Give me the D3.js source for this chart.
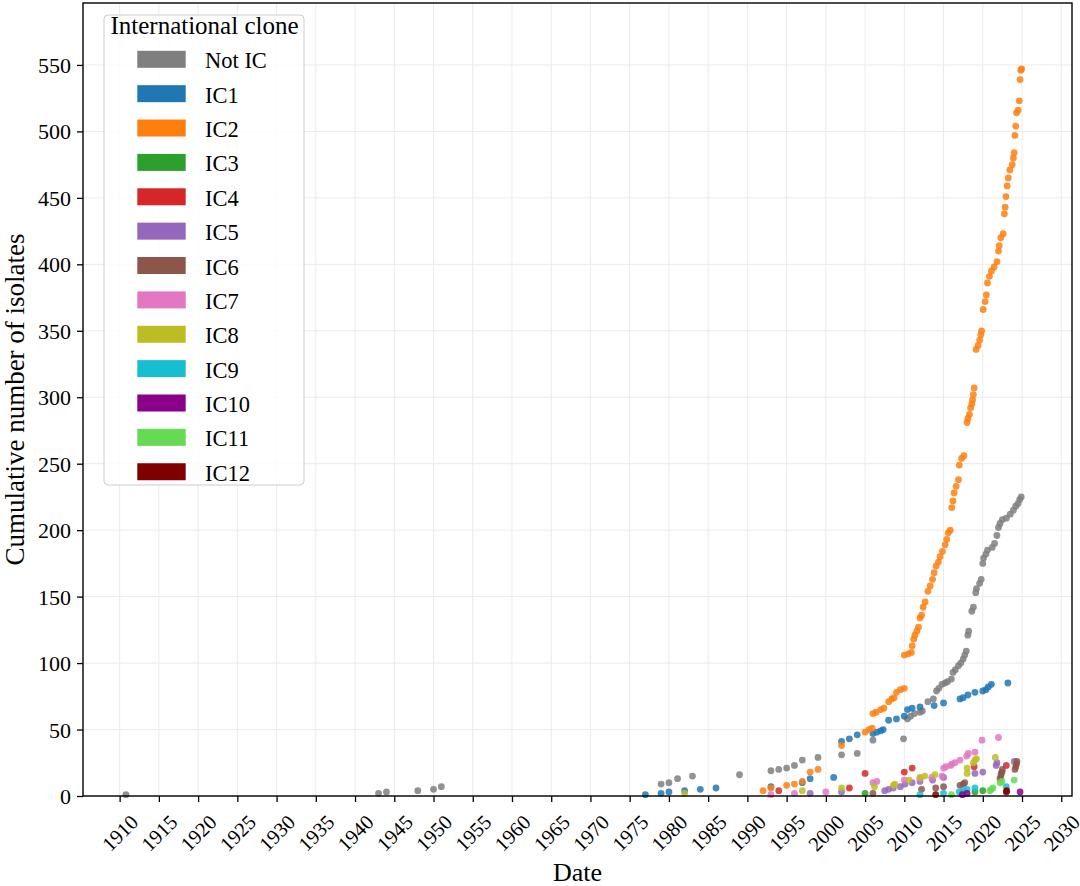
<!DOCTYPE html>
<html>
<head>
<meta charset="utf-8">
<script src="https://d3js.org/d3.v7.min.js"></script>
<style>
  body { margin: 0; background: #fff; }
  text { font-family: "Liberation Serif", "DejaVu Serif", serif; fill: #000; }
</style>
</head>
<body>
<main></main>
<script>
// categories and their colours
const clones = ["Not IC", "IC1", "IC2", "IC3", "IC4", "IC5", "IC6", "IC7", "IC8", "IC9", "IC10", "IC11", "IC12"];
const palette = ["#7f7f7f", "#1f77b4", "#ff7f0e", "#2ca02c", "#d62728", "#9467bd", "#8c564b",
	"#e377c2", "#bcbd22", "#17becf", "#8b008b", "#66d955", "#800000"];

// tick labels
const xTicks = [1910, 1915, 1920, 1925, 1930, 1935, 1940, 1945, 1950, 1955, 1960, 1965, 1970,
	1975, 1980, 1985, 1990, 1995, 2000, 2005, 2010, 2015, 2020, 2025, 2030];
const yTicks = [0, 50, 100, 150, 200, 250, 300, 350, 400, 450, 500, 550];

// [date (decimal year), cumulative number of isolates]
const notIC = [[1910.8, 1], [1943.0, 2], [1944.0, 3], [1948.0, 4], [1950.0, 5], [1951.0, 7],
	[1979.0, 9], [1980.0, 10], [1981.1, 13], [1983.0, 15], [1989.0, 16],
	[1993.0, 19], [1994.0, 20], [1995.0, 21], [1996.0, 23], [1997.0, 27], [1999.0, 29],
	[2002.0, 31], [2004.0, 32], [2006.0, 42], [2009.9, 43],
	[2010.4, 58], [2010.8, 60], [2011.3, 62], [2012.0, 63], [2012.3, 64], [2013.0, 71],
	[2013.7, 73], [2014.1, 79], [2014.4, 81], [2014.8, 84], [2015.2, 85], [2015.5, 86],
	[2016.0, 88], [2016.2, 93], [2016.5, 95], [2016.9, 98], [2017.2, 100], [2017.5, 103],
	[2017.7, 106], [2017.9, 109], [2018.1, 121], [2018.2, 124], [2018.6, 139], [2018.8, 142],
	[2019.1, 153], [2019.2, 156], [2019.6, 160], [2019.8, 163], [2020.0, 175], [2020.1, 179],
	[2020.4, 182], [2020.6, 185], [2021.2, 187], [2021.5, 190], [2021.8, 196], [2022.0, 202],
	[2022.2, 205], [2022.5, 208], [2023.0, 209], [2023.5, 212], [2023.9, 215], [2024.2, 218],
	[2024.5, 220], [2024.7, 223], [2024.9, 225]];
const ic1 = [[1977.0, 1], [1979.0, 2], [1980.0, 3], [1982.0, 4], [1984.0, 5], [1986.0, 6],
	[1993.0, 7], [1997.0, 10], [1998.0, 13], [2001.0, 14], [2002.0, 41], [2003.0, 43],
	[2004.0, 46], [2006.0, 47], [2006.5, 48], [2007.0, 49], [2007.3, 50], [2008.0, 57],
	[2009.0, 58], [2010.0, 60], [2010.4, 65], [2011.0, 66], [2012.0, 67], [2013.8, 68],
	[2015.0, 70], [2017.1, 73], [2017.5, 74], [2018.1, 76], [2019.0, 78], [2020.0, 79],
	[2020.4, 80], [2020.7, 82], [2021.1, 84], [2023.2, 85]];
const ic2 = [[1992.0, 4], [1993.0, 6], [1995.0, 8], [1996.0, 9], [1997.0, 11], [1998.0, 18],
	[1999.0, 20], [2002.0, 38], [2005.0, 48], [2005.5, 50], [2005.9, 51], [2006.0, 62],
	[2006.4, 63], [2007.0, 65], [2007.4, 66], [2008.0, 71], [2008.4, 73], [2008.7, 74],
	[2009.0, 78], [2009.5, 80], [2010.0, 81],
	[2010.0, 106], [2010.5, 107], [2010.9, 108], [2011.0, 113], [2011.2, 118], [2011.35, 121],
	[2011.6, 124], [2011.8, 127], [2012.0, 134], [2012.2, 136], [2012.4, 142], [2012.65, 146],
	[2013.0, 154], [2013.3, 158], [2013.6, 163], [2013.8, 168], [2014.05, 173], [2014.35, 176],
	[2014.55, 180], [2014.85, 184], [2015.2, 189], [2015.4, 193], [2015.6, 198], [2015.85, 200],
	[2016.05, 217], [2016.2, 222], [2016.35, 228], [2016.6, 233], [2016.9, 238], [2017.0, 249],
	[2017.3, 254], [2017.6, 256], [2018.0, 281], [2018.1, 284], [2018.3, 287], [2018.45, 292],
	[2018.6, 295], [2018.7, 298], [2018.8, 302], [2018.9, 307], [2019.15, 336], [2019.4, 339],
	[2019.6, 343], [2019.75, 347], [2019.85, 350], [2020.05, 366], [2020.3, 372], [2020.45, 377],
	[2020.6, 386], [2020.85, 391], [2021.1, 395], [2021.45, 398], [2021.8, 402], [2022.0, 410],
	[2022.1, 414], [2022.3, 420], [2022.6, 423], [2022.75, 438], [2022.85, 443], [2022.95, 451],
	[2023.1, 459], [2023.25, 465], [2023.45, 471], [2023.75, 475], [2023.9, 480], [2024.0, 484],
	[2024.1, 497], [2024.2, 504], [2024.3, 514], [2024.5, 516], [2024.65, 523], [2024.75, 539],
	[2024.85, 546], [2024.95, 547]];
const ic3 = [[2005.0, 2], [2019.0, 3], [2020.0, 4]];
const ic4 = [[1994.0, 4], [2003.0, 6], [2005.0, 17], [2010.0, 18], [2011.0, 21], [2018.9, 22], [2023.0, 23]];
const ic5 = [[1998.0, 2], [2002.0, 3], [2007.5, 4], [2008.0, 5], [2008.6, 6], [2009.5, 7],
	[2010.1, 9], [2011.0, 10], [2012.0, 11], [2013.6, 12], [2015.0, 14], [2019.0, 17],
	[2020.0, 18], [2021.7, 23], [2021.8, 25], [2024.0, 26]];
const ic6 = [[2006.0, 2], [2012.2, 5], [2014.0, 6], [2015.0, 7], [2017.1, 8], [2017.5, 9],
	[2017.7, 10], [2022.2, 13], [2022.3, 15], [2022.35, 17], [2022.45, 18], [2022.5, 20],
	[2024.1, 20], [2024.2, 22], [2024.3, 24], [2024.35, 26]];
const ic7 = [[1993.0, 1], [1996.0, 2], [2000.0, 3], [2006.0, 10], [2006.5, 11], [2010.0, 12],
	[2012.0, 13], [2013.5, 14], [2014.8, 15], [2015.0, 21], [2015.3, 22], [2015.9, 23],
	[2016.05, 24], [2016.45, 25], [2017.1, 27], [2017.95, 30], [2018.15, 32], [2019.0, 33],
	[2019.9, 42], [2022.0, 44]];
const ic8 = [[1982.0, 2], [1997.0, 4], [2002.0, 6], [2006.2, 7], [2008.6, 8], [2008.8, 9],
	[2010.6, 12], [2012.0, 14], [2012.6, 15], [2013.9, 16], [2018.0, 17], [2018.0, 21],
	[2018.8, 25], [2019.0, 27], [2019.2, 28], [2021.6, 29]];
const ic9 = [[2012.0, 1], [2015.0, 2], [2017.0, 3], [2017.5, 4], [2018.0, 5], [2019.0, 6], [2023.0, 7]];
const ic10 = [[2017.4, 1], [2018.0, 2], [2024.75, 3]];
const ic11 = [[2016.0, 1], [2020.9, 4], [2021.1, 5], [2021.3, 6], [2022.2, 10], [2022.45, 11], [2024.0, 12]];
const ic12 = [[2014.0, 1], [2023.0, 3], [2023.05, 4]];

const series = [notIC, ic1, ic2, ic3, ic4, ic5, ic6, ic7, ic8, ic9, ic10, ic11, ic12];

const width = 1080;
const height = 886;
const plotLeft = 83, plotRight = 1072, plotTop = 3, plotBottom = 796;

const svg = d3.select("main")
	.append("svg")
	.attr("width", width)
	.attr("height", height);

const xScale = d3.scaleLinear()
	.domain([1905.33, 2031.37])
	.range([plotLeft, plotRight]);

const yScale = d3.scaleLinear()
	.domain([0, 596.6])
	.range([plotBottom, plotTop]);

// grid
svg.append('g')
	.selectAll('line')
	.data(xTicks)
	.enter()
	.append('line')
	.attr('x1', (d) => xScale(d))
	.attr('x2', (d) => xScale(d))
	.attr('y1', plotTop)
	.attr('y2', plotBottom)
	.attr('stroke', '#ebebeb')
	.attr('stroke-width', 1);

svg.append('g')
	.selectAll('line')
	.data(yTicks)
	.enter()
	.append('line')
	.attr('x1', plotLeft)
	.attr('x2', plotRight)
	.attr('y1', (d) => yScale(d))
	.attr('y2', (d) => yScale(d))
	.attr('stroke', '#ebebeb')
	.attr('stroke-width', 1);

// points
series.forEach(function(pts, i) {
	svg.append('g')
		.selectAll('circle')
		.data(pts)
		.enter()
		.append('circle')
		.attr('cx', (p) => xScale(p[0]))
		.attr('cy', (p) => yScale(p[1]))
		.attr('r', 3.4)
		.attr('fill', palette[i])
		.attr('fill-opacity', 0.85);
});

// axes
const xAxis = svg.append('g')
	.attr('transform', `translate(0, ${plotBottom})`)
	.call(d3.axisBottom(xScale)
		.tickValues(xTicks)
		.tickSize(6)
		.tickSizeOuter(0)
		.tickFormat(d3.format('d')));

xAxis.select('.domain').remove();
xAxis.selectAll('line').attr('stroke-width', 1.3);
xAxis.selectAll('text')
	.attr('y', 0)
	.attr('dy', 0)
	.attr('text-anchor', 'middle')
	.attr('dominant-baseline', 'central')
	.attr('transform', 'translate(0, 37) rotate(-45)')
	.style('font-size', '20.5px')
	.style('font-family', '"Liberation Serif", serif');

const yAxis = svg.append('g')
	.attr('transform', `translate(${plotLeft}, 0)`)
	.call(d3.axisLeft(yScale)
		.tickValues(yTicks)
		.tickSize(6)
		.tickSizeOuter(0)
		.tickPadding(6));

yAxis.select('.domain').remove();
yAxis.selectAll('line').attr('stroke-width', 1.3);
yAxis.selectAll('text')
	.attr('dy', '0.34em')
	.style('font-size', '22px')
	.style('font-family', '"Liberation Serif", serif');

// frame
svg.append('rect')
	.attr('x', plotLeft)
	.attr('y', plotTop)
	.attr('width', plotRight - plotLeft)
	.attr('height', plotBottom - plotTop)
	.attr('fill', 'none')
	.attr('stroke', '#000')
	.attr('stroke-width', 1.4);

// axis labels
svg.append('text')
	.attr('x', (plotLeft + plotRight) / 2)
	.attr('y', 881)
	.attr('text-anchor', 'middle')
	.style('font-size', '26px')
	.text('Date');

svg.append('text')
	.attr('x', -(plotTop + plotBottom) / 2)
	.attr('y', 24)
	.attr('transform', 'rotate(-90)')
	.attr('text-anchor', 'middle')
	.style('font-size', '27px')
	.text('Cumulative number of isolates');

// legend
const legend = svg.append('g');

legend.append('rect')
	.attr('x', 104)
	.attr('y', 15)
	.attr('width', 200)
	.attr('height', 470)
	.attr('rx', 4)
	.attr('fill', '#fff')
	.attr('fill-opacity', 0.8)
	.attr('stroke', '#cccccc');

legend.append('text')
	.attr('x', 204.5)
	.attr('y', 33.5)
	.attr('text-anchor', 'middle')
	.style('font-size', '25px')
	.text('International clone');

const rows = legend.selectAll('g.row')
	.data(clones)
	.enter()
	.append('g')
	.attr('class', 'row')
	.attr('transform', (d, i) => `translate(0, ${59.3 + i * 34.37})`);

rows.append('rect')
	.attr('x', 137.3)
	.attr('y', -8.5)
	.attr('width', 48.4)
	.attr('height', 17)
	.attr('fill', (d, i) => palette[i]);

rows.append('text')
	.attr('x', 205)
	.attr('y', 9)
	.style('font-size', '22.5px')
	.text((d) => d);
</script>
</body>
</html>
